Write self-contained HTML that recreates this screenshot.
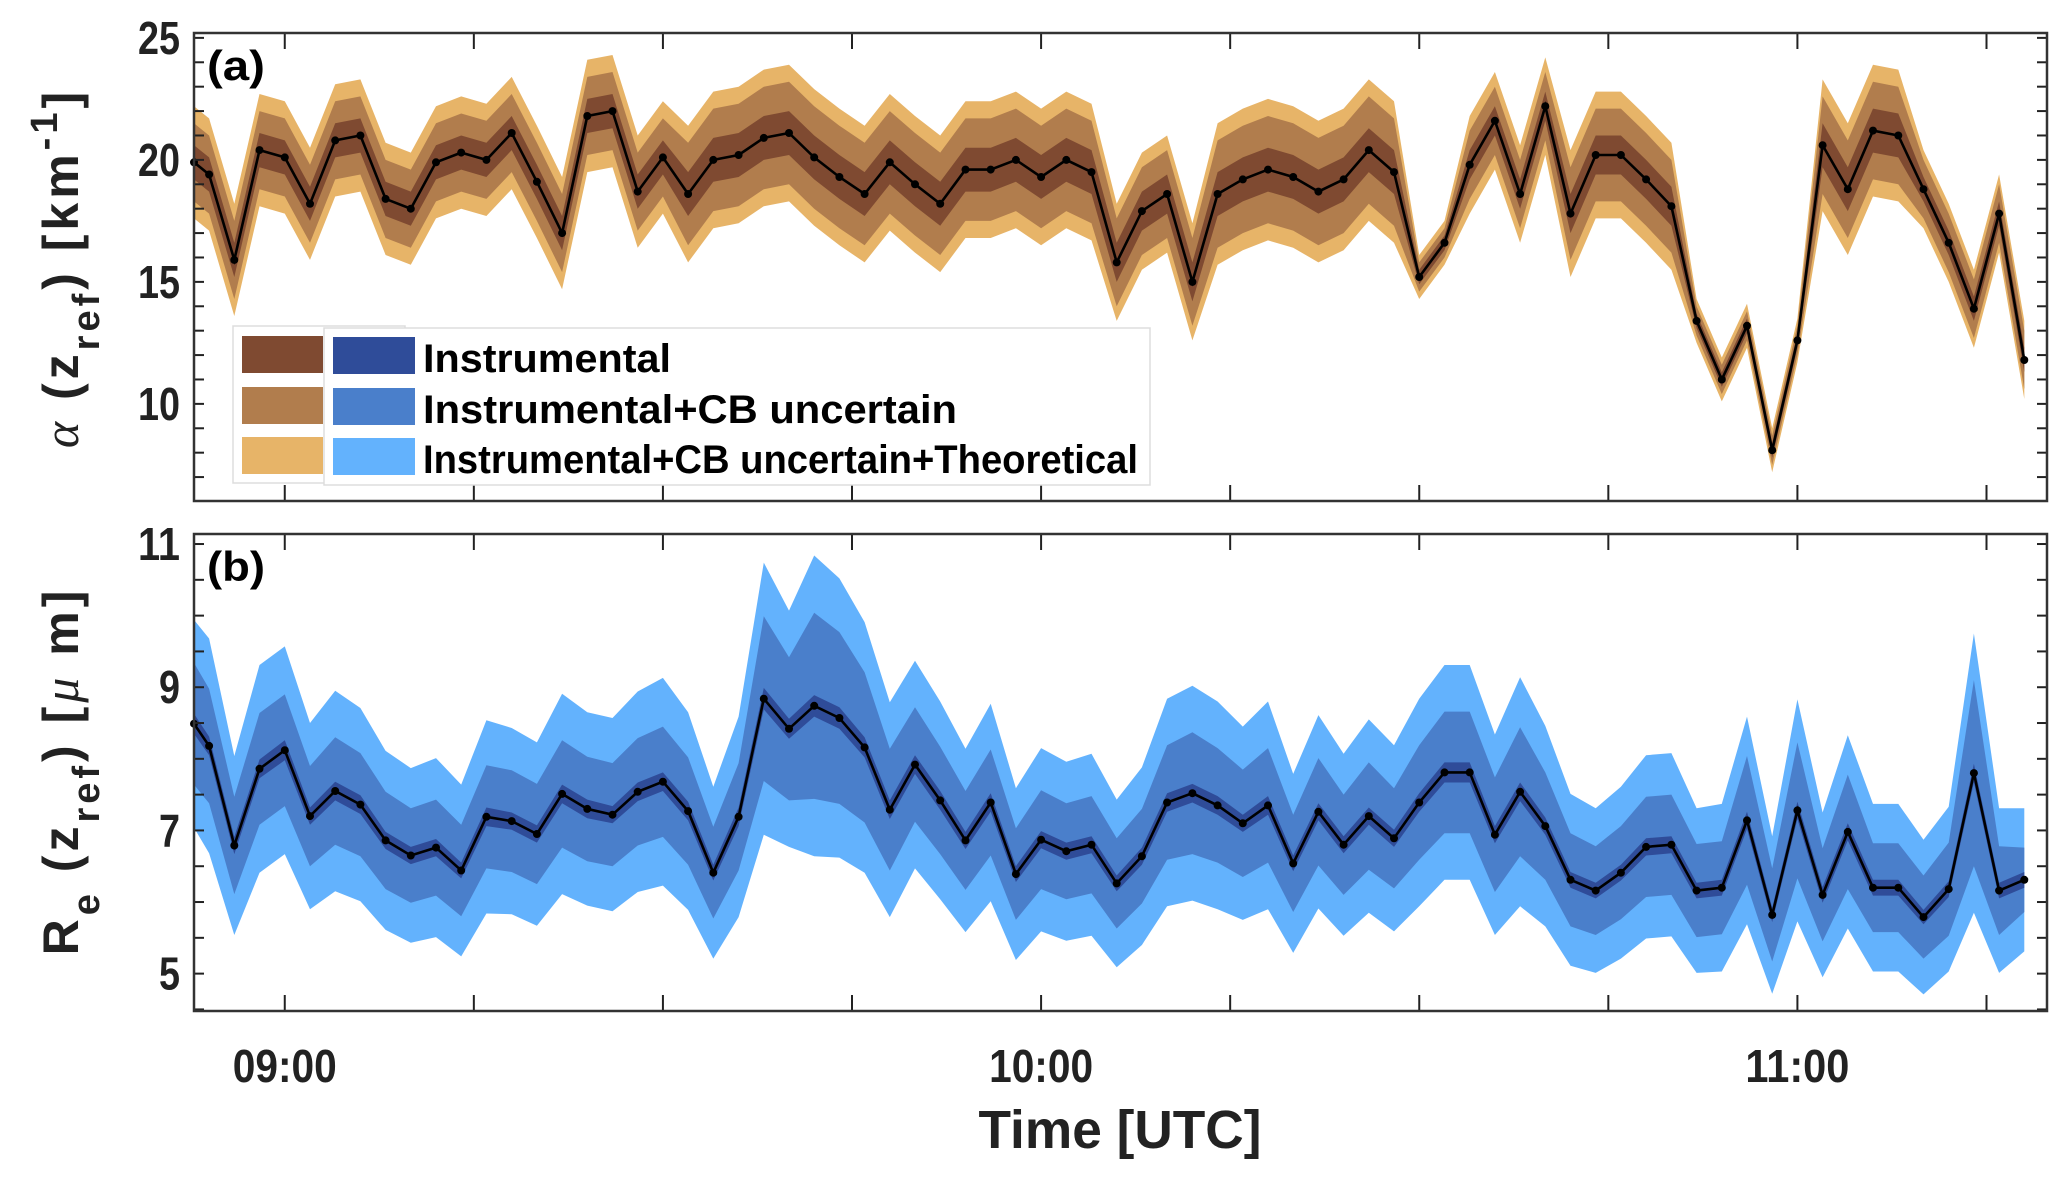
<!DOCTYPE html>
<html><head><meta charset="utf-8"><style>
html,body{margin:0;padding:0;background:#fff;}
svg{display:block;font-family:"Liberation Sans",Arial,sans-serif;}
</style></head><body>
<svg id="chart" width="2067" height="1179" viewBox="0 0 2067 1179" xmlns="http://www.w3.org/2000/svg">
<defs>
<clipPath id="clipA"><rect x="194" y="33" width="1853" height="468"/></clipPath>
<clipPath id="clipB"><rect x="194" y="534" width="1853" height="477"/></clipPath>
</defs>
<g id="gA"></g>
<g id="gB"></g>
</svg>
<script>
const times = [-7.2,-6,-4,-2,0,2,4,6,8,10,12,14,16,18,20,22,24,26,28,30,32,34,36,38,40,42,44,46,48,50,52,54,56,58,60,62,64,66,68,70,72,74,76,78,80,82,84,86,88,90,92,94,96,98,100,102,104,106,108,110,112,114,116,118,120,122,124,126,128,130,132,134,136,138];
const aVal = [19.9,19.4,15.9,20.4,20.1,18.2,20.8,21.0,18.4,18.0,19.9,20.3,20.0,21.1,19.1,17.0,21.8,22.0,18.7,20.1,18.6,20.0,20.2,20.9,21.1,20.1,19.3,18.6,19.9,19.0,18.2,19.6,19.6,20.0,19.3,20.0,19.5,15.8,17.9,18.6,15.0,18.6,19.2,19.6,19.3,18.7,19.2,20.4,19.5,15.2,16.6,19.8,21.6,18.6,22.2,17.8,20.2,20.2,19.2,18.1,13.4,11.0,13.2,8.1,12.6,20.6,18.8,21.2,21.0,18.8,16.6,13.9,17.8,11.8];
const aIn = [0.7,0.7,0.7,0.7,0.7,0.7,0.7,0.7,0.7,0.7,0.7,0.7,0.7,0.7,0.7,0.7,0.7,0.7,0.7,0.7,0.9,0.9,0.9,0.9,0.9,0.9,0.9,0.9,0.9,0.9,0.9,0.9,0.9,0.9,0.9,0.9,0.9,0.8,0.8,0.8,0.8,0.9,0.9,0.9,0.9,0.9,0.9,0.9,0.9,0.3,0.3,0.6,0.6,0.6,0.6,0.8,0.8,0.8,0.8,0.8,0.3,0.3,0.3,0.3,0.3,0.9,0.9,0.9,0.9,0.5,0.5,0.5,0.5,0.5];
const aMid = [1.6,1.6,1.6,1.6,1.6,1.6,1.6,1.6,1.6,1.6,1.6,1.6,1.6,1.6,1.6,1.6,1.6,1.6,1.6,1.6,2.1,2.1,2.1,2.1,2.1,2.1,2.1,2.1,2.1,2.1,2.1,2.1,2.1,2.1,2.1,2.1,2.1,1.8,1.8,1.8,1.8,2.2,2.2,2.2,2.2,2.2,2.2,2.2,2.2,0.6,0.6,1.4,1.4,1.4,1.4,1.9,1.9,1.9,1.9,1.9,0.6,0.6,0.6,0.6,0.6,2.0,2.0,2.0,2.0,1.2,1.2,1.2,1.2,1.2];
const aOut = [2.3,2.3,2.3,2.3,2.3,2.3,2.3,2.3,2.3,2.3,2.3,2.3,2.3,2.3,2.3,2.3,2.3,2.3,2.3,2.3,2.8,2.8,2.8,2.8,2.8,2.8,2.8,2.8,2.8,2.8,2.8,2.8,2.8,2.8,2.8,2.8,2.8,2.4,2.4,2.4,2.4,2.9,2.9,2.9,2.9,2.9,2.9,2.9,2.9,0.9,0.9,2.0,2.0,2.0,2.0,2.6,2.6,2.6,2.6,2.6,0.9,0.9,0.9,0.9,0.9,2.7,2.7,2.7,2.7,1.6,1.6,1.6,1.6,1.6];
const bVal = [8.49,8.18,6.79,7.86,8.12,7.20,7.55,7.36,6.86,6.65,6.76,6.44,7.19,7.13,6.95,7.51,7.30,7.22,7.54,7.68,7.27,6.41,7.19,8.84,8.42,8.74,8.57,8.16,7.29,7.92,7.42,6.86,7.39,6.39,6.87,6.71,6.80,6.26,6.64,7.39,7.52,7.35,7.10,7.35,6.54,7.26,6.80,7.20,6.89,7.39,7.81,7.81,6.94,7.54,7.06,6.31,6.16,6.41,6.77,6.80,6.16,6.20,7.14,5.82,7.28,6.10,6.98,6.20,6.20,5.79,6.18,7.80,6.16,6.31];
const bIn = [0.14,0.13,0.12,0.13,0.14,0.12,0.13,0.13,0.12,0.12,0.12,0.11,0.13,0.12,0.12,0.13,0.13,0.12,0.13,0.13,0.13,0.11,0.13,0.15,0.14,0.15,0.15,0.14,0.13,0.13,0.13,0.12,0.13,0.11,0.12,0.12,0.12,0.11,0.12,0.13,0.13,0.13,0.12,0.13,0.11,0.12,0.12,0.12,0.12,0.13,0.14,0.14,0.12,0.13,0.12,0.11,0.11,0.11,0.12,0.12,0.11,0.11,0.12,0.10,0.12,0.11,0.12,0.11,0.11,0.10,0.11,0.13,0.11,0.11];
const bMid = [0.85,0.8,0.68,0.78,0.78,0.7,0.75,0.72,0.68,0.66,0.67,0.64,0.72,0.71,0.7,0.75,0.73,0.72,0.75,0.77,0.75,0.64,0.75,1.15,1.0,1.3,1.2,1.05,0.85,0.8,0.75,0.69,0.74,0.64,0.69,0.67,0.68,0.63,0.66,0.8,0.85,0.8,0.75,0.8,0.68,0.75,0.7,0.75,0.7,0.8,0.85,0.85,0.8,0.9,0.75,0.65,0.62,0.65,0.7,0.7,0.65,0.65,0.9,0.65,0.95,0.65,0.8,0.62,0.62,0.58,0.65,1.3,0.62,0.45];
const bOut = [1.45,1.5,1.25,1.45,1.45,1.3,1.4,1.35,1.25,1.22,1.25,1.2,1.35,1.3,1.28,1.4,1.35,1.35,1.4,1.45,1.38,1.2,1.4,1.9,1.65,2.1,1.95,1.75,1.5,1.45,1.38,1.28,1.38,1.2,1.28,1.25,1.27,1.17,1.24,1.45,1.5,1.45,1.35,1.45,1.25,1.35,1.27,1.35,1.3,1.45,1.5,1.5,1.4,1.6,1.4,1.2,1.15,1.2,1.28,1.28,1.15,1.17,1.45,1.1,1.55,1.15,1.35,1.17,1.17,1.08,1.15,1.95,1.15,1.0];
const xTickMin = [0,15,30,45,60,75,90,105,120,135];
const xLabelMin = [0,60,120];
const xLabels = ["09:00","10:00","11:00"];
const aTicks = [10,15,20,25];
const bTicks = [5,7,9,11];

const NS = "http://www.w3.org/2000/svg";
const L = 194, R = 2047;
const xs = t => L + (t + 7.2) * (R - L) / 147.0;
const ya = v => 33 + (25.2 - v) * 24.4;
const yb = v => 534 + (11.14 - v) * 71.6;

function mk(tag, attrs, parent) {
  const e = document.createElementNS(NS, tag);
  for (const k in attrs) e.setAttribute(k, attrs[k]);
  parent.appendChild(e);
  return e;
}
function band(g, vals, hw, ys, fill, clip) {
  const up = vals.map((v, i) => xs(times[i]).toFixed(1) + "," + ys(v + hw[i]).toFixed(1));
  const dn = vals.map((v, i) => xs(times[i]).toFixed(1) + "," + ys(v - hw[i]).toFixed(1)).reverse();
  return mk("polygon", {points: up.concat(dn).join(" "), fill: fill, "clip-path": clip}, g);
}
function panel(g, vals, bi, bm, bo, ys, cols, top, bot, clip, yticks, minorStep, ymin, ymax, lab) {
  const po = band(g, vals, bo, ys, cols[2], clip);
  
  
  const pm = band(g, vals, bm, ys, cols[1], clip);
  
  
  const pi = band(g, vals, bi, ys, cols[0], clip);
  
  
  const ln = mk("polyline", {points: vals.map((v, i) => xs(times[i]).toFixed(1) + "," + ys(v).toFixed(1)).join(" "), fill: "none", stroke: "#000", "stroke-width": 2.6, "clip-path": clip}, g);
  
  
  vals.forEach((v, i) => {
    const c = mk("circle", {cx: xs(times[i]).toFixed(1), cy: ys(v).toFixed(1), r: 4, fill: "#000"}, g);
    
    
  });
  xTickMin.forEach(t => {
    const x = xs(t);
    const t1 = mk("line", {x1: x, x2: x, y1: bot, y2: bot - 16, stroke: "#222", "stroke-width": 2}, g);
    
    
    const t2 = mk("line", {x1: x, x2: x, y1: top, y2: top + 16, stroke: "#222", "stroke-width": 2}, g);
    
    
  });
  for (let v = Math.ceil(ymin / minorStep) * minorStep; v <= ymax + 1e-6; v += minorStep) {
    const y = ys(v);
    const y1 = mk("line", {x1: L, x2: L + 10, y1: y, y2: y, stroke: "#222", "stroke-width": 2}, g);
    
    
    const y2 = mk("line", {x1: R, x2: R - 10, y1: y, y2: y, stroke: "#222", "stroke-width": 2}, g);
    
    
  }
  yticks.forEach(v => {
    const s = String(v);
    const tx = mk("text", {x: 180, y: ys(v) + 16, "text-anchor": "end", "font-size": 46, "font-weight": "bold", fill: "#222", textLength: s.length * 21, lengthAdjust: "spacingAndGlyphs"}, g);
    tx.textContent = s;
    
    
  });
  const fr = mk("rect", {x: L, y: top, width: R - L, height: bot - top, fill: "none", stroke: "#333", "stroke-width": 2.5}, g);
  
  
  const pl = mk("text", {x: 207, y: top + 47, "font-size": 42, "font-weight": "bold", fill: "#000", textLength: 58, lengthAdjust: "spacingAndGlyphs"}, g);
  pl.textContent = lab;
  
  
}
const gA = document.getElementById("gA"), gB = document.getElementById("gB");
panel(gA, aVal, aIn, aMid, aOut, ya, ["#7f4a31", "#b17d4d", "#e7b468"], 33, 501, "url(#clipA)", aTicks, 1, 6.1, 25.2, "(a)");
panel(gB, bVal, bIn, bMid, bOut, yb, ["#2f4c99", "#4a7fcb", "#63b2fd"], 534, 1011, "url(#clipB)", bTicks, 0.5, 4.5, 11.14, "(b)");

xLabelMin.forEach((t, i) => {
  const tx = mk("text", {x: xs(t), y: 1082, "text-anchor": "middle", "font-size": 46, "font-weight": "bold", fill: "#222", textLength: 104, lengthAdjust: "spacingAndGlyphs"}, gB);
  tx.textContent = xLabels[i];
  
  
});
const xt = mk("text", {x: 1120, y: 1148, "text-anchor": "middle", "font-size": 54, "font-weight": "bold", fill: "#222", textLength: 283, lengthAdjust: "spacingAndGlyphs"}, gB);
xt.textContent = "Time [UTC]";



const ta = mk("text", {transform: "translate(78,268) rotate(-90)", "text-anchor": "middle", "font-size": 50, "font-weight": "bold", fill: "#222", "letter-spacing": 4}, gA);
ta.innerHTML = '<tspan font-style="italic" font-weight="normal" font-family="Liberation Serif,serif">α</tspan> (z<tspan baseline-shift="sub" font-size="38">ref</tspan>)  [km<tspan baseline-shift="super" font-size="38">-1</tspan>]';


const tb = mk("text", {transform: "translate(78,771) rotate(-90)", "text-anchor": "middle", "font-size": 50, "font-weight": "bold", fill: "#222", "letter-spacing": 4}, gB);
tb.innerHTML = 'R<tspan baseline-shift="sub" font-size="38">e</tspan> (z<tspan baseline-shift="sub" font-size="38">ref</tspan>)  [<tspan font-style="italic" font-weight="normal" font-family="Liberation Serif,serif">μ</tspan> m]';



const lg = mk("g", {}, gA);


const lb1 = mk("rect", {x: 233, y: 326, width: 172, height: 157, fill: "#fff", stroke: "#ddd", "stroke-width": 1.5}, lg);


const brown = ["#7f4a31", "#b17d4d", "#e7b468"], blue = ["#2f4c99", "#4a7fcb", "#63b2fd"];
const swY = [336, 387, 437];
const names = ["Instrumental", "Instrumental+CB uncertain", "Instrumental+CB uncertain+Theoretical"];
const lens = [248, 534, 715];
swY.forEach((y, i) => {
  const s = mk("rect", {x: 242, y: y, width: 81, height: 37, fill: brown[i]}, lg);
  
  
});
const lb2 = mk("rect", {x: 324, y: 328, width: 826, height: 157, fill: "#fff", stroke: "#ddd", "stroke-width": 1.5}, lg);


swY.forEach((y, i) => {
  const s = mk("rect", {x: 333, y: y + 1, width: 82, height: 37, fill: blue[i]}, lg);
  
  
  const t = mk("text", {x: 423, y: y + 36, "font-size": 40, "font-weight": "bold", fill: "#000", textLength: lens[i], lengthAdjust: "spacingAndGlyphs"}, lg);
  t.textContent = names[i];
  
  
});
</script>
</body></html>
